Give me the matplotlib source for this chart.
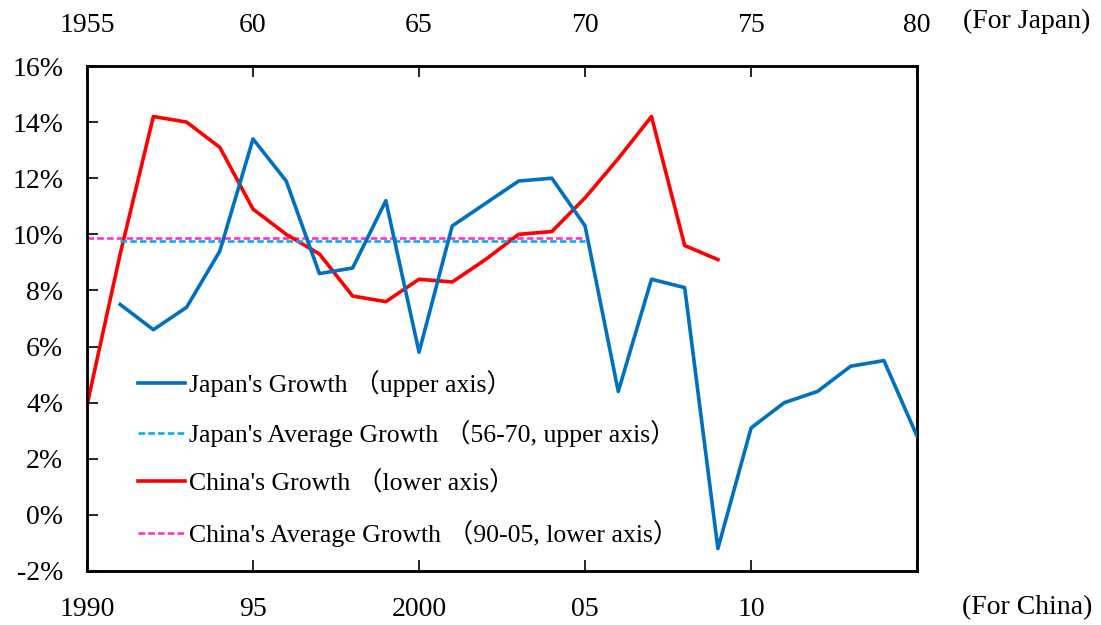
import matplotlib
matplotlib.use("Agg")
import matplotlib.pyplot as plt
from matplotlib.legend import Legend
from matplotlib.ticker import FixedLocator, FixedFormatter

plt.rcParams['font.family'] = ['Liberation Serif', 'Noto Sans CJK JP']

# Japan (upper axis)
japan_years = [1956, 1957, 1958, 1959, 1960, 1961, 1962, 1963, 1964, 1965, 1966, 1967,
               1968, 1969, 1970, 1971, 1972, 1973, 1974, 1975, 1976, 1977, 1978, 1979, 1980]
japan_growth = [7.5, 6.6, 7.4, 9.4, 13.4, 11.9, 8.6, 8.8, 11.2, 5.8, 10.3, 11.1,
                11.9, 12.0, 10.3, 4.4, 8.4, 8.1, -1.2, 3.1, 4.0, 4.4, 5.3, 5.5, 2.8]
japan_avg_years = [1956, 1970]
japan_avg = 9.75

# China (lower axis)
china_years = [1990, 1991, 1992, 1993, 1994, 1995, 1996, 1997, 1998, 1999, 2000,
               2001, 2002, 2003, 2004, 2005, 2006, 2007, 2008, 2009]
china_growth = [3.9, 9.3, 14.2, 14.0, 13.1, 10.9, 10.0, 9.3, 7.8, 7.6, 8.4,
                8.3, 9.1, 10.0, 10.1, 11.3, 12.7, 14.2, 9.6, 9.1]
china_avg_years = [1990, 2005]
china_avg = 9.86

bottom_ticks = [1990, 1995, 2000, 2005, 2010, 2015]
bottom_labels = ['1990', '95', '2000', '05', '10', '']
top_ticks = [1955, 1960, 1965, 1970, 1975, 1980]
top_labels = ['1955', '60', '65', '70', '75', '80']
y_ticks = [-2, 0, 2, 4, 6, 8, 10, 12, 14, 16]
y_labels = ['-2%', '0%', '2%', '4%', '6%', '8%', '10%', '12%', '14%', '16%']

labels = ["Japan's Growth \uff08upper axis\uff09",
          "Japan's Average Growth \uff0856-70, upper axis\uff09",
          "China's Growth \uff08lower axis\uff09",
          "China's Average Growth \uff0890-05, lower axis\uff09"]

fig = plt.figure(figsize=(11.01, 6.25), dpi=100)
ax = fig.add_axes([0.079, 0.0864, 0.754, 0.808])
ax2 = ax.twiny()

tick_fs = 20

h_jp, = ax2.plot(japan_years, japan_growth, color='#0070C0', lw=2.6, zorder=3)
h_jpa, = ax2.plot(japan_avg_years, [japan_avg, japan_avg], color='#00B0F0', lw=1.9,
                  ls=(0, (2.5, 1.2)), zorder=2)
h_cn, = ax.plot(china_years, china_growth, color='#FF0000', lw=2.6, zorder=3)
h_cna, = ax.plot(china_avg_years, [china_avg, china_avg], color='#FF33CC', lw=1.9,
                 ls=(0, (2.5, 1.2)), zorder=2)

ax.set_xlim(1990, 2015)
ax2.set_xlim(1955, 1980)
ax.set_ylim(-2, 16)

ax.xaxis.set_major_locator(FixedLocator(bottom_ticks))
ax.xaxis.set_major_formatter(FixedFormatter(bottom_labels))
ax2.xaxis.set_major_locator(FixedLocator(top_ticks))
ax2.xaxis.set_major_formatter(FixedFormatter(top_labels))
ax.yaxis.set_major_locator(FixedLocator(y_ticks))
ax.yaxis.set_major_formatter(FixedFormatter(y_labels))

ax.tick_params(axis='x', direction='in', length=8, width=1.2, pad=19, labelsize=tick_fs)
ax.tick_params(axis='y', direction='in', length=8, width=1.2, pad=17, labelsize=tick_fs)
ax2.tick_params(axis='x', direction='in', length=8, width=1.2, pad=20, labelsize=tick_fs)

for a in (ax, ax2):
    for s in a.spines.values():
        s.set_linewidth(1.8)

fig.text(0.990, 0.965, '(For Japan)', ha='right', va='center', fontsize=tick_fs)
fig.text(0.992, 0.028, '(For China)', ha='right', va='center', fontsize=tick_fs)

handles = [h_jp, h_jpa, h_cn, h_cna]
row_y = [0.372, 0.273, 0.174, 0.075]
for h, lab, yy in zip(handles, labels, row_y):
    lg = Legend(ax2, [h], [lab], loc='center left', bbox_to_anchor=(0.061, yy),
                frameon=False, fontsize=18.5, handlelength=1.85,
                handletextpad=0.15, borderpad=0, borderaxespad=0)
    ax2.add_artist(lg)

fig.savefig('out.png', dpi=100)
